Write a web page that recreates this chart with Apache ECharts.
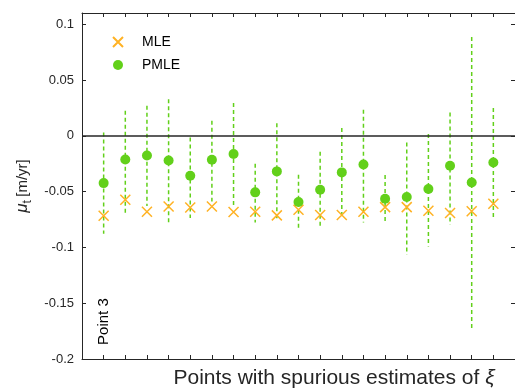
<!DOCTYPE html>
<html>
<head>
<meta charset="utf-8">
<script src="https://cdn.jsdelivr.net/npm/echarts@6/dist/echarts.min.js"></script>
<style>
  html, body { margin: 0; padding: 0; background: #fff; }
  #chart { width: 515px; height: 390px; }
</style>
</head>
<body>
<div id="chart"></div>
<script>
// Point index along the horizontal axis (1..19)
const pointIds = [1, 2, 3, 4, 5, 6, 7, 8, 9, 10, 11, 12, 13, 14, 15, 16, 17, 18, 19];

// Trend estimates mu_t [m/yr]
const mleValues  = [-0.0716, -0.0573, -0.0680, -0.0633, -0.0642, -0.0633, -0.0683, -0.0680, -0.0713, -0.0662,
                    -0.0710, -0.0710, -0.0680, -0.0639, -0.0639, -0.0671, -0.0692, -0.0677, -0.0609];
const pmleValues = [-0.0424, -0.0212, -0.0176, -0.0221, -0.0358, -0.0215, -0.0164, -0.0507, -0.0319, -0.0594,
                    -0.0483, -0.0328, -0.0257, -0.0564, -0.0549, -0.0477, -0.0269, -0.0418, -0.0239];

// Confidence interval bounds for the PMLE estimates
const pmleUpper = [ 0.0030,  0.0224,  0.0269,  0.0328, -0.0015,  0.0134,  0.0293, -0.0251,  0.0113, -0.0349,
                   -0.0143,  0.0069,  0.0233, -0.0352, -0.0060,  0.0015,  0.0209,  0.0884,  0.0248];
const pmleLower = [-0.0877, -0.0692, -0.0630, -0.0776, -0.0737, -0.0588, -0.0633, -0.0776, -0.0752, -0.0841,
                   -0.0827, -0.0735, -0.0776, -0.0776, -0.1065, -0.0991, -0.0797, -0.1722, -0.0737];

// Y tick values
const yTicks = [-0.2, -0.15, -0.1, -0.05, 0, 0.05, 0.1];

const GREEN = '#62d01a';
const ORANGE = '#ffb224';
const INK = '#262626';
const FONT = '"Liberation Sans", Arial, Helvetica, sans-serif';

const chart = echarts.init(document.getElementById('chart'), null, { renderer: 'canvas' });

const mleData = pointIds.map((x, i) => [x, mleValues[i]]);
const pmleData = pointIds.map((x, i) => [x, pmleValues[i]]);
const ciData = pointIds.map((x, i) => [x, pmleLower[i], pmleUpper[i]]);

const yLabelFmt = v => {
  const r = +v.toFixed(2);
  return yTicks.some(t => Math.abs(t - r) < 1e-9) ? String(r) : '';
};

const xAxisBase = {
  type: 'value', min: 0, max: 20, interval: 1,
  axisLine: { show: true, onZero: false, lineStyle: { color: INK, width: 1 } },
  axisTick: { show: true, inside: true, length: 4, lineStyle: { color: INK } },
  axisLabel: { show: false },
  splitLine: { show: false }
};
const yAxisBase = {
  type: 'value', min: -0.2, max: 0.11, interval: 0.05,
  axisLine: { show: true, onZero: false, lineStyle: { color: INK, width: 1 } },
  axisTick: { show: true, inside: true, length: 4, lineStyle: { color: INK } },
  splitLine: { show: false }
};

chart.setOption({
  animation: false,
  backgroundColor: '#fff',
  textStyle: { fontFamily: FONT },
  grid: { left: 82, top: 13, width: 434, height: 346, containLabel: false },
  xAxis: [
    Object.assign({}, xAxisBase, { position: 'bottom' }),
    Object.assign({}, xAxisBase, { position: 'top' })
  ],
  yAxis: [
    Object.assign({}, yAxisBase, {
      position: 'left',
      axisLabel: {
        show: true, margin: 8, color: INK, fontSize: 13, fontFamily: FONT,
        showMaxLabel: false, formatter: yLabelFmt
      },
      name: '{mu|\u03bc}{sub|t} {n|[m/yr]}',
      nameLocation: 'middle',
      nameGap: 36,
      nameRotate: 90,
      nameTextStyle: {
        color: INK, fontFamily: FONT,
        rich: {
          mu: { fontSize: 17, fontStyle: 'italic', color: INK, fontFamily: FONT, lineHeight: 22 },
          sub: { fontSize: 12, color: INK, fontFamily: FONT, lineHeight: 22, verticalAlign: 'bottom', padding: [9, 0, 0, 0] },
          n: { fontSize: 15, color: INK, fontFamily: FONT, lineHeight: 22 }
        }
      }
    }),
    Object.assign({}, yAxisBase, { position: 'right', axisLabel: { show: false } })
  ],
  legend: {
    orient: 'vertical',
    left: 107, top: 30,
    itemWidth: 10, itemHeight: 10, itemGap: 9,
    data: ['MLE', 'PMLE'],
    textStyle: { fontSize: 14, color: '#000', fontFamily: FONT, padding: [0, 0, 0, 14] },
    selectedMode: false
  },
  series: [
    {
      name: 'PMLE interval',
      type: 'custom',
      z: 1,
      data: ciData,
      encode: { x: 0, y: [1, 2] },
      renderItem: (params, api) => {
        const top = api.coord([api.value(0), api.value(2)]);
        const bot = api.coord([api.value(0), api.value(1)]);
        return {
          type: 'line',
          shape: { x1: top[0], y1: top[1], x2: bot[0], y2: bot[1] },
          style: { stroke: GREEN, lineWidth: 1.5, lineDash: [4, 3], fill: null }
        };
      },
      silent: true
    },
    {
      name: 'zero',
      type: 'line',
      data: [],
      silent: true,
      markLine: {
        silent: true, symbol: 'none', label: { show: false },
        lineStyle: { color: INK, width: 1.5, type: 'solid' },
        data: [{ yAxis: 0 }]
      }
    },
    {
      name: 'MLE',
      type: 'scatter',
      z: 3,
      data: mleData,
      symbol: 'path://M0,0L10,10M10,0L0,10',
      symbolSize: 10,
      itemStyle: { color: 'rgba(0,0,0,0)', borderColor: ORANGE, borderWidth: 1.5, opacity: 1 }
    },
    {
      name: 'PMLE',
      type: 'scatter',
      z: 4,
      data: pmleData,
      symbol: 'circle',
      symbolSize: 10,
      itemStyle: { color: GREEN, opacity: 1 }
    }
  ]
});

// Annotations placed through the axis scales
const tagPos = chart.convertToPixel({ gridIndex: 0 }, [1, -0.1665]);
chart.setOption({
  graphic: [
    {
      type: 'text',
      x: tagPos[0], y: tagPos[1],
      rotation: Math.PI / 2,
      style: {
        text: 'Point 3', fontSize: 15, fontFamily: FONT, fill: '#000',
        align: 'center', verticalAlign: 'middle'
      }
    },
    {
      type: 'text',
      x: 334, y: 378,
      style: {
        rich: {
          a: { fontSize: 21, fontFamily: FONT, fill: INK },
          x: { fontSize: 21, fontFamily: FONT, fontStyle: 'italic', fill: INK }
        },
        text: '{a|Points with spurious estimates of }{x|\u03be}',
        align: 'center', verticalAlign: 'middle'
      }
    }
  ]
});
</script>
</body>
</html>
